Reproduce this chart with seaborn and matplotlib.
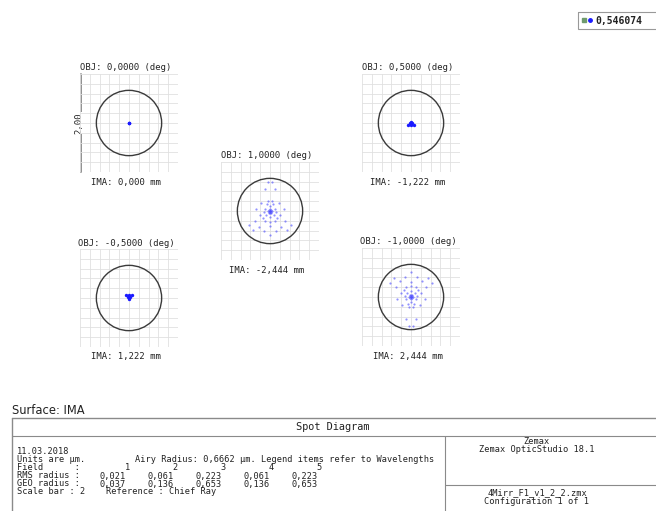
import numpy as np
import pandas as pd
import matplotlib.pyplot as plt
import seaborn as sns
from matplotlib.patches import Circle, Rectangle

# spot diagram data (units: um, relative to chief ray)
field_labels = ["OBJ: 0,0000 (deg)", "OBJ: 0,5000 (deg)", "OBJ: 1,0000 (deg)",
                "OBJ: -0,5000 (deg)", "OBJ: -1,0000 (deg)"]
ima_labels = ["IMA: 0,000 mm", "IMA: -1,222 mm", "IMA: -2,444 mm",
              "IMA: 1,222 mm", "IMA: 2,444 mm"]
airy_radius = 0.6662
wavelength = "0,546074"

spot1_x = [0.0, 0.01, -0.01]
spot1_y = [0.0, 0.01, -0.01]

spot2_x = [0.0, -0.03, 0.03, -0.07, 0.0, 0.07]
spot2_y = [0.03, -0.01, -0.01, -0.05, -0.05, -0.05]

spot3_x = [0, 0.02, -0.02, 0.02, -0.02, 0, 0, 0.04, -0.04, 0.03, -0.03,
           0.1, -0.1, 0.08, -0.08, 0, 0, 0.12, -0.12, 0.06, -0.06,
           0.18, -0.18, 0.2, -0.2, 0.1, -0.1, 0.05, -0.05, 0, 0.15, -0.15,
           0.3, -0.3, 0.42, -0.42, 0.22, -0.22, 0.28, -0.28, 0.35, -0.35, 0.12, -0.12,
           -0.05, 0.05, -0.1, 0.1, 0, 0, 0.01, -0.01]
spot3_y = [0, 0.02, 0.02, -0.02, -0.02, 0.04, -0.04, 0, 0, -0.05, -0.05,
           0.05, 0.05, -0.08, -0.08, 0.1, -0.12, -0.02, -0.02, 0.14, 0.14,
           0.16, 0.16, -0.08, -0.08, -0.2, -0.2, 0.2, 0.2, -0.22, -0.15, -0.15,
           -0.2, -0.2, -0.28, -0.28, -0.32, -0.32, 0.05, 0.05, -0.38, -0.38, -0.4, -0.4,
           0.6, 0.6, 0.45, 0.45, -0.5, -0.3, 0.01, -0.01]

spot4_x = [-0.07, 0.0, 0.07, -0.03, 0.03, 0.0]
spot4_y = [0.06, 0.06, 0.06, 0.02, 0.02, -0.02]

spot5_x = [0, 0.02, -0.02, 0.02, -0.02, 0, 0, 0.04, -0.04, 0.03, -0.03,
           0.1, -0.1, 0.08, -0.08, 0, 0, 0.12, -0.12, 0.06, -0.06,
           0.18, -0.18, 0.2, -0.2, 0.1, -0.1, 0.05, -0.05, 0, 0.15, -0.15,
           0.3, -0.3, 0.42, -0.42, 0.22, -0.22, 0.28, -0.28, 0.35, -0.35, 0.12, -0.12,
           -0.05, 0.05, -0.1, 0.1, 0, 0, 0.01, -0.01]
spot5_y = [0, -0.02, -0.02, 0.02, 0.02, -0.04, 0.04, 0, 0, 0.05, 0.05,
           -0.05, -0.05, 0.08, 0.08, -0.1, 0.12, 0.02, 0.02, -0.14, -0.14,
           -0.16, -0.16, 0.08, 0.08, 0.2, 0.2, -0.2, -0.2, 0.22, 0.15, 0.15,
           0.2, 0.2, 0.28, 0.28, 0.32, 0.32, -0.05, -0.05, 0.38, 0.38, 0.4, 0.4,
           -0.6, -0.6, -0.45, -0.45, 0.5, 0.3, -0.01, 0.01]

spots = [(spot1_x, spot1_y), (spot2_x, spot2_y), (spot3_x, spot3_y),
         (spot4_x, spot4_y), (spot5_x, spot5_y)]

# table text
table_fields = ["1", "2", "3", "4", "5"]
rms_radius = ["0,021", "0,061", "0,223", "0,061", "0,223"]
geo_radius = ["0,037", "0,136", "0,653", "0,136", "0,653"]

# layout (pixels)
W, H = 656, 511
centers = [(129, 123), (411, 123), (270, 211), (129, 298), (411, 297)]
half = 49
mono = "DejaVu Sans Mono"
txt = "#222222"

sns.set_theme(style="white")
fig = plt.figure(figsize=(W / 100, H / 100), dpi=100)

# background axes in pixel coords for text/table
bg = fig.add_axes([0, 0, 1, 1])
bg.set_xlim(0, W)
bg.set_ylim(H, 0)
bg.axis("off")

for i, (cx, cy) in enumerate(centers):
    ax = fig.add_axes([(cx - half) / W, 1 - (cy + half) / H, 2 * half / W, 2 * half / H])
    ax.set_xlim(-1, 1)
    ax.set_ylim(-1, 1)
    ticks = np.linspace(-1, 1, 11)
    for t in ticks:
        ax.axvline(t, color="#e0e0e0", lw=0.6, zorder=0)
        ax.axhline(t, color="#e0e0e0", lw=0.6, zorder=0)
    for s in ax.spines.values():
        s.set_visible(False)
    ax.set_xticks([])
    ax.set_yticks([])
    ax.patch.set_alpha(0)
    ax.add_patch(Circle((0, 0), airy_radius, fill=False, ec="#3a3a3a", lw=1.0, zorder=2))
    sx, sy = spots[i]
    df = pd.DataFrame({"x": sx, "y": sy})
    if len(sx) > 10:
        sns.scatterplot(data=df, x="x", y="y", ax=ax, color="#4a4aff", s=2.5,
                        alpha=0.6, linewidth=0, zorder=3)
    else:
        sns.scatterplot(data=df, x="x", y="y", ax=ax, color="#1a1aff", s=6,
                        linewidth=0, zorder=3)
    ax.set_xlabel("")
    ax.set_ylabel("")
    bg.text(cx - 3, cy - 55, field_labels[i], family=mono, fontsize=6.4,
            color=txt, ha="center", va="center")
    bg.text(cx - 3, cy + 59, ima_labels[i], family=mono, fontsize=6.4,
            color=txt, ha="center", va="center")

# scale bar on first box
cx, cy = centers[0]
bg.plot([cx - half + 1, cx - half + 1], [cy - half, cy + half], color="#888888", lw=1.3)
bg.text(cx - half - 1, cy, "2,00", family=mono, fontsize=6.4, color=txt, rotation=90,
        ha="center", va="center", bbox=dict(fc="white", ec="none", pad=0.5))

# legend
bg.add_patch(Rectangle((578, 12), 82, 17, fill=False, ec="#999999", lw=0.8))
bg.plot([584], [20.5], marker="s", ms=3.5, color="#6e9a6e", ls="none")
bg.plot([590], [20.5], marker="o", ms=2.5, color="#1a1aff", ls="none")
bg.text(595, 21, wavelength, family=mono, fontsize=7, fontweight="bold",
        color=txt, ha="left", va="center")

# bottom table
bg.text(12, 411, "Surface: IMA", fontsize=8.3, color=txt, ha="left", va="center")
lc = "#8a8a8a"
bg.plot([12, 656], [418, 418], color=lc, lw=1)
bg.plot([12, 12], [418, 511], color=lc, lw=1)
bg.plot([12, 656], [436, 436], color=lc, lw=0.8)
bg.plot([445, 445], [436, 511], color=lc, lw=0.8)
bg.plot([445, 656], [485, 485], color=lc, lw=0.8)
bg.text(333, 427.5, "Spot Diagram", family=mono, fontsize=7.4, color=txt, ha="center", va="center")

fs = 6.2
lx = 17
bg.text(lx, 452, "11.03.2018", family=mono, fontsize=fs, color=txt, va="center")
bg.text(lx, 460, "Units are \u00b5m.", family=mono, fontsize=fs, color=txt, va="center")
bg.text(135, 460, "Airy Radius: 0,6662 \u00b5m. Legend items refer to Wavelengths",
        family=mono, fontsize=fs, color=txt, va="center")
bg.text(lx, 468, "Field      :", family=mono, fontsize=fs, color=txt, va="center")
bg.text(lx, 476, "RMS radius :", family=mono, fontsize=fs, color=txt, va="center")
bg.text(lx, 484, "GEO radius :", family=mono, fontsize=fs, color=txt, va="center")
bg.text(lx, 492, "Scale bar : 2", family=mono, fontsize=fs, color=txt, va="center")
bg.text(106, 492, "Reference : Chief Ray", family=mono, fontsize=fs, color=txt, va="center")
for j in range(5):
    vx = 100 + 48 * j
    bg.text(vx + 30, 468, table_fields[j], family=mono, fontsize=fs, color=txt, ha="right", va="center")
    bg.text(vx, 476, rms_radius[j], family=mono, fontsize=fs, color=txt, va="center")
    bg.text(vx, 484, geo_radius[j], family=mono, fontsize=fs, color=txt, va="center")

bg.text(537, 442, "Zemax", family=mono, fontsize=fs, color=txt, ha="center", va="center")
bg.text(537, 450, "Zemax OpticStudio 18.1", family=mono, fontsize=fs, color=txt, ha="center", va="center")
bg.text(537, 493, "4Mirr_F1_v1_2_2.zmx", family=mono, fontsize=fs, color=txt, ha="center", va="center")
bg.text(537, 501, "Configuration 1 of 1", family=mono, fontsize=fs, color=txt, ha="center", va="center")

fig.savefig("out.png", dpi=100)
